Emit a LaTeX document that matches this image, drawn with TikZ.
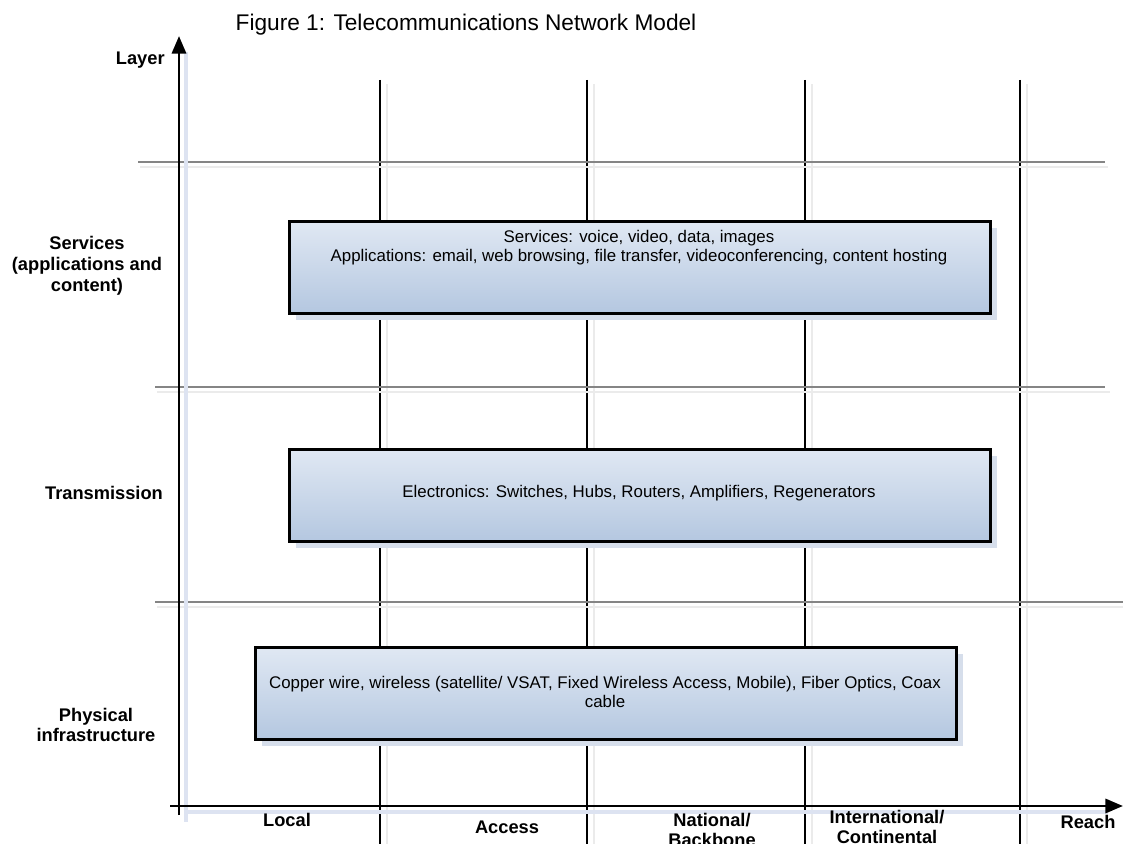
\documentclass[tikz,border=0pt]{standalone}
\usepackage{fontspec}
\setmainfont{Liberation Sans}
\usetikzlibrary{arrows.meta}
\definecolor{boxtop}{HTML}{E0E8F3}
\definecolor{boxbot}{HTML}{B4C7E0}
\definecolor{shadowc}{HTML}{D6DEEB}
\definecolor{axshadow}{HTML}{DDE3F1}
\definecolor{lineshadow}{HTML}{EBEBEB}
\definecolor{gridgray}{HTML}{858585}
\tikzset{
  layerbox/.style={draw=black, line width=1.7pt, top color=boxtop, bottom color=boxbot, align=center, font=\fontsize{9.6}{10.8}\selectfont, inner sep=0pt, anchor=north west},
  boxtext/.style={font=\fontsize{9.6}{10.8}\selectfont, align=center, inner sep=0pt},
  sidelabel/.style={font=\bfseries\fontsize{10.4}{11.8}\selectfont, align=center, inner sep=0pt},
  reachlabel/.style={font=\bfseries\fontsize{10.4}{11.8}\selectfont, align=center, inner sep=0pt},
  axis/.style={line width=1.7pt, -{Triangle[length=10pt,width=8pt]}},
  vline/.style={line width=0.6pt, black},
  hline/.style={line width=1.1pt, gridgray},
  shadowline/.style={line width=1.2pt, lineshadow}
}
\begin{document}
\begin{tikzpicture}[x=0.02cm, y=-0.02cm]
\useasboundingbox (0,0) rectangle (1123,844);
% title
\node[font=\fontsize{12.9}{15}\selectfont, inner sep=0pt] (title) at (466,25) {Figure 1: Telecommunications Network Model};
% vertical reach lines
\foreach \x/\n in {380/a,587/b,805/c,1020/d}{
  \draw[shadowline, line width=0.8pt] (\x+7,84) -- (\x+7,844);
  \coordinate (v\n t) at (\x,80);
  \coordinate (v\n b) at (\x,844);
  \draw[vline] (v\n t) -- (v\n b);
}
% horizontal layer lines
\coordinate (h1l) at (138,162); \coordinate (h1r) at (1105,162);
\coordinate (h2l) at (155,387); \coordinate (h2r) at (1105,387);
\coordinate (h3l) at (155,602); \coordinate (h3r) at (1123,602);
\draw[shadowline] (140,167) -- (1108,167);
\draw[shadowline] (157,392) -- (1110,392);
\draw[shadowline] (157,607) -- (1123,607);
\draw[hline] (h1l) -- (h1r);
\draw[hline] (h2l) -- (h2r);
\draw[hline] (h3l) -- (h3r);
% boxes with shadows
\fill[shadowc] (296,228) rectangle (997,320);
\fill[shadowc] (296,456) rectangle (997,548);
\fill[shadowc] (262,654) rectangle (963,746);
\node[layerbox, minimum width=701*0.02cm, minimum height=92*0.02cm] (svc) at (288,220) {};
\node[boxtext] (svct1) at (639,238) {Services: voice, video, data, images};
\node[boxtext] (svct2) at (639,257) {Applications: email, web browsing, file transfer, videoconferencing, content hosting};
\node[layerbox, minimum width=701*0.02cm, minimum height=92*0.02cm] (trn) at (288,448) {};
\node[boxtext] (trnt) at (639,493) {Electronics: Switches, Hubs, Routers, Amplifiers, Regenerators};
\node[layerbox, minimum width=701*0.02cm, minimum height=92*0.02cm] (phy) at (254,646) {};
\node[boxtext] (phyt1) at (605,684) {Copper wire, wireless (satellite/ VSAT, Fixed Wireless Access, Mobile), Fiber Optics, Coax};
\node[boxtext] (phyt2) at (605,701) {cable};
% axes
\draw[axshadow, line width=2pt] (186,52) -- (186,822);
\draw[axshadow, line width=2pt] (186,812) -- (1108,812);
\coordinate (yo) at (179,815);
\coordinate (yt) at (179,36);
\coordinate (xo) at (170,806);
\coordinate (xt) at (1123,806);
\draw[axis] (yo) -- (yt);
\draw[axis] (xo) -- (xt);
% labels
\node[sidelabel, anchor=east] (layer) at (165,60) {Layer};
\node[sidelabel] (lsvc) at (87,266) {Services\\(applications and\\content)};
\node[sidelabel] (ltrn) at (104,493) {Transmission};
\node[sidelabel] (lphy) at (96,725) {Physical\\infrastructure};
\node[reachlabel] (local) at (287,820) {Local};
\node[reachlabel] (access) at (507,827) {Access};
\node[reachlabel] (nat) at (712,830) {National/\\Backbone};
\node[reachlabel] (intl) at (887,827) {International/\\Continental};
\node[reachlabel] (reach) at (1088,822) {Reach};
\end{tikzpicture}
\end{document}
